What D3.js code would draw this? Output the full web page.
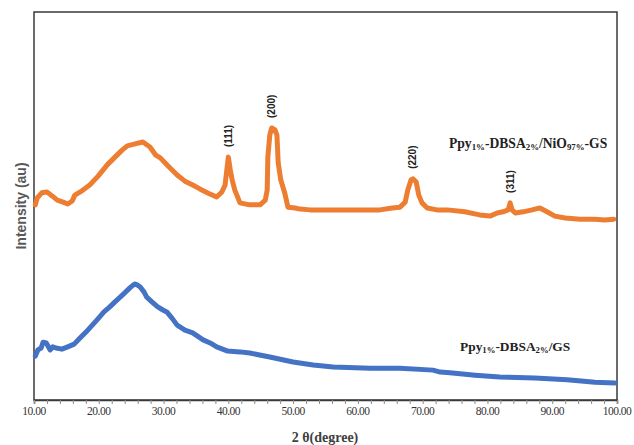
<!DOCTYPE html>
<html>
<head>
<meta charset="utf-8">
<script src="https://cdn.jsdelivr.net/npm/d3@7"></script>
<style>
  html, body { margin: 0; padding: 0; background: #fff; }
  svg { display: block; }
</style>
</head>
<body>
<svg id="chart" width="634" height="445"></svg>
<script>
// ---- data (2θ in degrees, intensity in arbitrary units) ----
const nioTheta = [10.2,10.5,11.2,12.0,12.8,13.6,14.5,15.2,15.9,16.3,17.4,18.6,19.9,21.3,22.5,23.6,24.4,25.6,26.8,27.9,28.8,29.5,30.7,32.1,33.3,34.5,35.6,36.9,38.2,39.0,39.5,39.8,40.0,40.3,40.6,41.0,41.8,43.3,44.9,45.7,46.0,46.1,46.4,46.7,47.2,47.5,47.7,48.1,48.7,49.2,50.3,51.1,52.6,55.7,58.8,61.9,63.4,65.3,66.5,67.3,67.7,68.2,68.5,69.0,69.4,69.9,70.7,72.2,73.8,76.5,78.8,80.4,81.5,82.4,83.2,83.5,83.8,84.3,85.5,86.9,88.1,89.2,90.4,92.0,94.3,96.6,98.1,99.5];
const nioIntensity = [503,521,534,536,526,515,510,505,513,528,539,554,577,606,626,644,655,660,665,652,631,624,603,580,564,554,544,533,523,536,554,598,626,593,567,541,508,503,503,515,541,626,683,701,696,683,611,567,534,497,495,492,490,490,490,490,490,495,497,510,541,567,570,562,528,508,495,490,490,485,477,474,482,485,490,508,490,482,485,490,495,485,474,469,466,466,464,466];

const gsTheta = [10.2,10.6,11.1,11.4,11.9,12.5,12.9,13.4,14.3,15.2,16.2,17.1,18.3,19.7,20.8,21.7,22.5,23.3,24.0,24.8,25.3,25.6,26.0,26.4,27.0,27.4,28.2,29.1,29.9,30.5,31.3,32.1,33.3,34.5,36.1,37.2,38.2,39.9,41.8,43.3,46.4,50.0,53.1,56.2,61.9,66.5,71.6,72.7,74.2,78.1,81.9,87.3,92.3,96.6,99.7];
const gsIntensity = [113,129,134,149,147,129,137,134,131,137,144,160,180,206,227,240,253,265,276,289,296,299,296,291,278,265,253,240,232,227,211,193,180,173,155,147,137,126,124,121,111,98,90,85,82,82,77,72,70,64,59,57,52,46,44];

const peakLabels = ["(111)", "(200)", "(220)", "(311)"];
const peakTheta = [40.0, 46.7, 68.5, 83.5];
const peakIntensity = [626, 701, 570, 508];

const xTickValues = [10,20,30,40,50,60,70,80,90,100];
const xMinorTicks = d3.range(10, 100.01, 2);

const seriesColors = ["#ED7D31", "#4472C4"];

// ---- layout ----
const svg = d3.select("#chart");
const W = 634, H = 445;
const x = d3.scaleLinear().domain([10, 100]).range([34, 617]);
const y = d3.scaleLinear().domain([0, 1000]).range([400, 12]);

// frame
svg.append("rect")
  .attr("x", x(10)).attr("y", y(1000))
  .attr("width", x(100) - x(10)).attr("height", y(0) - y(1000))
  .attr("fill", "none").attr("stroke", "#3a3a3a").attr("stroke-width", 1.5);

// x axis
const xAxis = d3.axisBottom(x).tickValues(xMinorTicks).tickSize(4).tickFormat("");
const gx = svg.append("g").attr("transform", `translate(0,${y(0)})`).call(xAxis);
gx.select(".domain").attr("stroke", "#3a3a3a").attr("stroke-width", 1.5);
gx.selectAll(".tick line").attr("stroke", "#8a8a8a");

svg.append("g").selectAll("text").data(xTickValues).join("text")
  .attr("x", d => x(d)).attr("y", 415)
  .attr("text-anchor", "middle")
  .attr("font-family", "'Liberation Serif', 'Times New Roman', serif")
  .attr("font-size", 11.5).attr("fill", "#333")
  .attr("letter-spacing", -0.5)
  .text(d => d3.format(".2f")(d));

svg.append("text")
  .attr("x", 325).attr("y", 442)
  .attr("text-anchor", "middle")
  .attr("font-family", "'Liberation Serif', 'Times New Roman', serif")
  .attr("font-weight", "bold").attr("font-size", 14).attr("fill", "#404040")
  .text("2 θ(degree)");

svg.append("text")
  .attr("transform", "translate(26,206) rotate(-90)")
  .attr("text-anchor", "middle")
  .attr("font-family", "'Liberation Sans', Arial, sans-serif")
  .attr("font-weight", "bold").attr("font-size", 14).attr("fill", "#595959")
  .text("Intensity (au)");

// lines
const line = d3.line().x(d => x(d[0])).y(d => y(d[1]));
const nioData = nioTheta.map((t, i) => [t, nioIntensity[i]]);
const gsData = gsTheta.map((t, i) => [t, gsIntensity[i]]);

svg.append("path").datum(gsData)
  .attr("d", line).attr("fill", "none")
  .attr("stroke", seriesColors[1]).attr("stroke-width", 5)
  .attr("stroke-linejoin", "round").attr("stroke-linecap", "round");

svg.append("path").datum(nioData)
  .attr("d", line).attr("fill", "none")
  .attr("stroke", seriesColors[0]).attr("stroke-width", 5)
  .attr("stroke-linejoin", "round").attr("stroke-linecap", "round");

// peak labels (rotated)
svg.append("g").selectAll("text").data(peakLabels).join("text")
  .attr("transform", (d, i) => `translate(${x(peakTheta[i]) + 3.5},${y(peakIntensity[i]) - 10}) rotate(-90)`)
  .attr("text-anchor", "start")
  .attr("font-family", "'Liberation Sans', Arial, sans-serif")
  .attr("font-weight", "bold").attr("font-size", 10).attr("fill", "#222")
  .text(d => d);

// series labels with subscripts
function seriesLabel(xPos, yPos, size, parts) {
  const t = svg.append("text")
    .attr("x", xPos).attr("y", yPos)
    .attr("font-family", "'Liberation Serif', 'Times New Roman', serif")
    .attr("font-weight", "bold").attr("font-size", size).attr("fill", "#222");
  parts.forEach(p => {
    const ts = t.append("tspan").text(p[0]);
    if (p[1] === "sub") ts.attr("font-size", size * 0.65).attr("dy", 2);
    else if (p[1] === "back") ts.attr("dy", -2);
  });
}
seriesLabel(449, 148, 13.6, [["Ppy"], ["1%", "sub"], ["-DBSA", "back"], ["2%", "sub"], ["/NiO", "back"], ["97%", "sub"], ["-GS", "back"]]);
seriesLabel(460, 351, 13.4, [["Ppy"], ["1%", "sub"], ["-DBSA", "back"], ["2%", "sub"], ["/GS", "back"]]);
</script>
</body>
</html>
